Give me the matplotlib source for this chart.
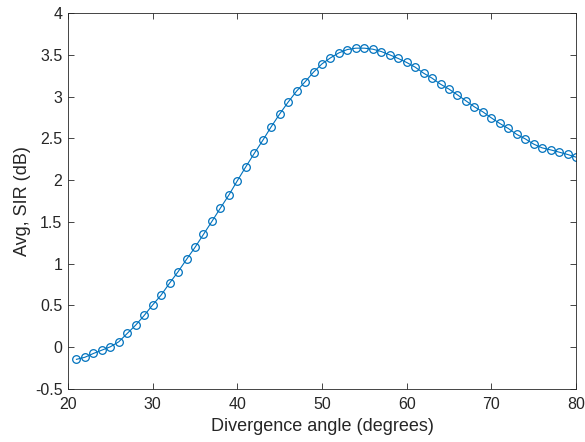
import matplotlib
matplotlib.use("Agg")
import matplotlib.pyplot as plt
from matplotlib.ticker import FuncFormatter

plt.rcParams['font.family'] = ['Liberation Sans', 'DejaVu Sans']

angles = list(range(21, 81))
sir_db = [-0.145, -0.12, -0.075, -0.035, 0.005, 0.065, 0.165, 0.265, 0.38, 0.506,
          0.624, 0.767, 0.903, 1.051, 1.195, 1.350, 1.506, 1.665, 1.821, 1.992,
          2.159, 2.319, 2.475, 2.638, 2.791, 2.933, 3.065, 3.176, 3.292, 3.391,
          3.463, 3.523, 3.563, 3.579, 3.579, 3.567, 3.539, 3.499, 3.456, 3.408,
          3.352, 3.28, 3.220, 3.148, 3.089, 3.020, 2.949, 2.877, 2.817, 2.745,
          2.678, 2.618, 2.547, 2.494, 2.431, 2.386, 2.362, 2.335, 2.307, 2.275]
xticks = [20, 30, 40, 50, 60, 70, 80]
yticks = [-0.5, 0, 0.5, 1, 1.5, 2, 2.5, 3, 3.5, 4]

fig = plt.figure(figsize=(5.85, 4.42), dpi=100)
ax = fig.add_axes([0.1162, 0.1199, 0.8684, 0.8507])
col = '#0072BD'
ax.plot(angles, sir_db, '-o', color=col, lw=0.8, ms=5.5, mfc='none', mew=0.9)
ax.set_xlim(20, 80)
ax.set_ylim(-0.5, 4)
ax.set_xticks(xticks)
ax.set_yticks(yticks)
ax.yaxis.set_major_formatter(FuncFormatter(lambda v, p: ('%g' % v).replace('\u2212', '-')))
ax.tick_params(direction='in', top=True, right=True, length=4, width=0.6,
               colors='#262626', labelsize=11.5)
ax.tick_params(axis='x', pad=6)
ax.tick_params(axis='y', pad=4)
for s in ax.spines.values():
    s.set_color('#262626')
    s.set_linewidth(0.6)
ax.set_xlabel('Divergence angle (degrees)', fontsize=13, color='#262626', labelpad=4)
ax.set_ylabel('Avg, SIR (dB)', fontsize=13, color='#262626', labelpad=3)
fig.savefig('out.png', dpi=100)
